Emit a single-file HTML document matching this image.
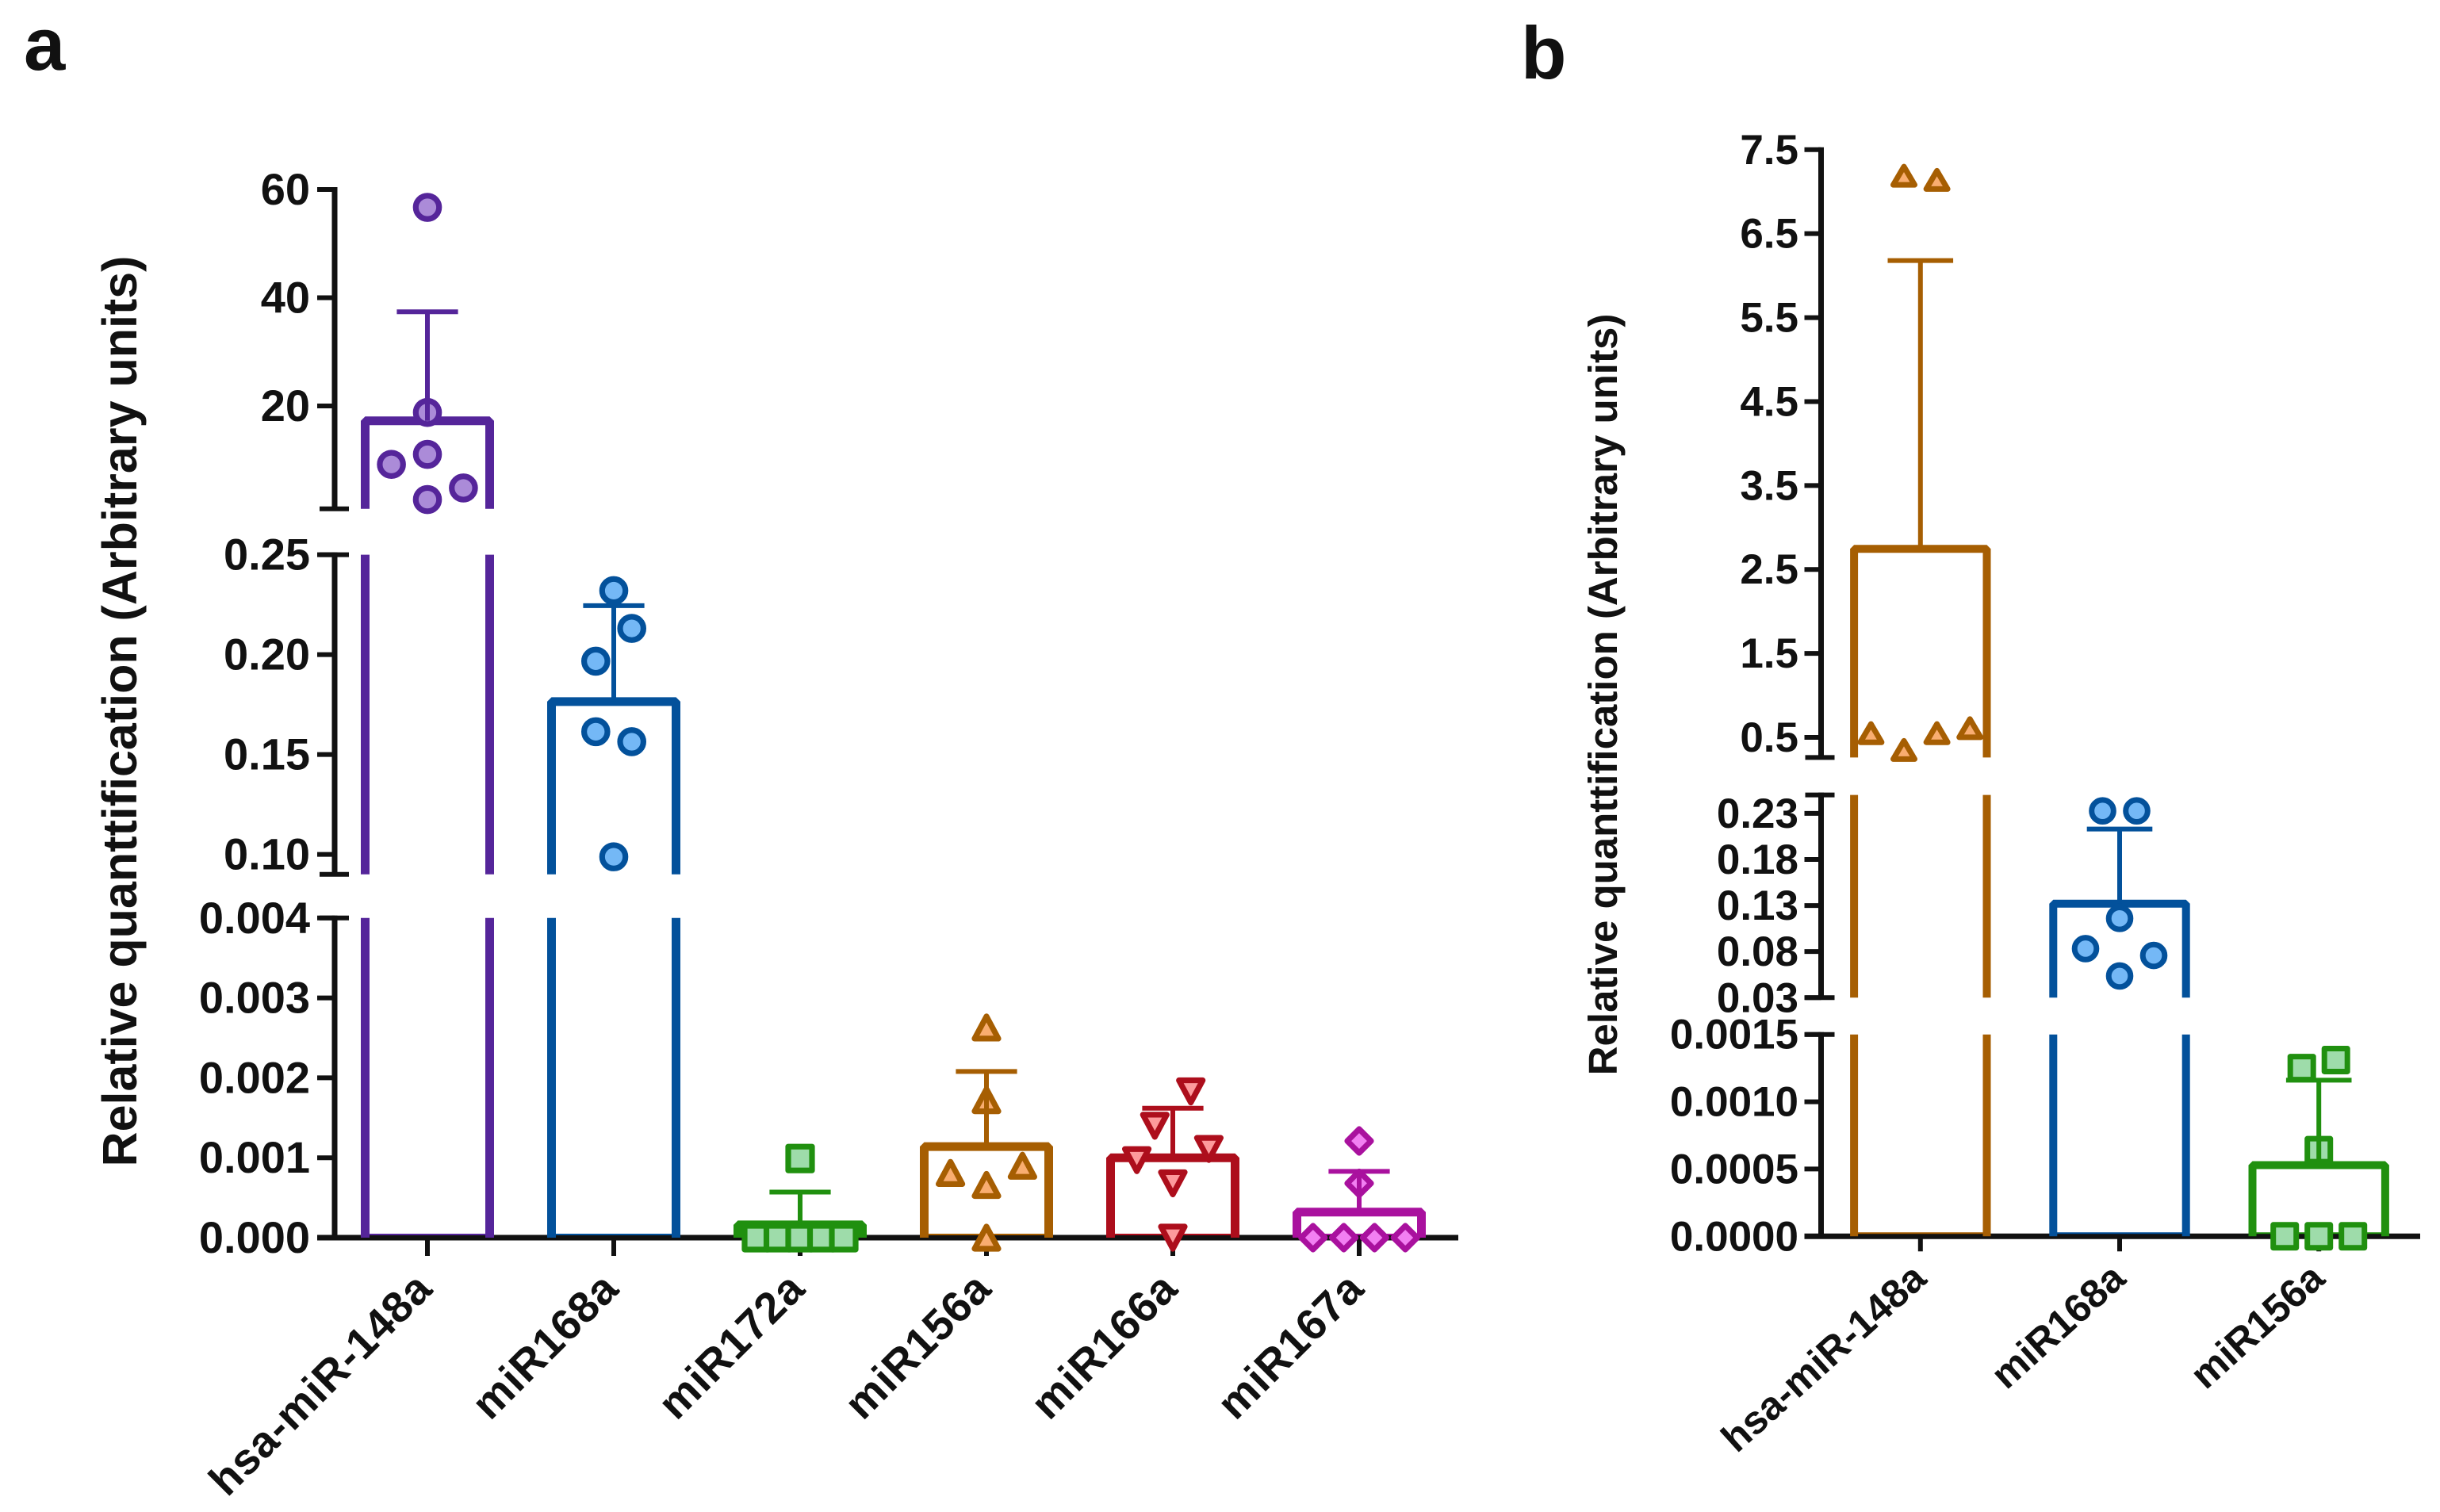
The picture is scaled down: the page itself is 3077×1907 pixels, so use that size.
<!DOCTYPE html>
<html lang="en">
<head>
<meta charset="utf-8">
<title>Relative quantification of miRNAs</title>
<style>
html,body{margin:0;padding:0;background:#fff;}
svg{display:block;}
text{font-family:"Liberation Sans",Arial,sans-serif;font-weight:bold;fill:#111;}
</style>
</head>
<body>
<svg id="figure" xmlns="http://www.w3.org/2000/svg" width="3077" height="1907" viewBox="0 0 3077 1907"></svg>
<script>
/* ---------- Panel a data ---------- */
var aCategories = ["hsa-miR-148a","miR168a","miR172a","miR156a","miR166a","miR167a"];
var aBarValues  = [17.26, 0.1765, 0.00016, 0.00114, 0.0010, 0.00032];
var aErrorTops  = [37.4, 0.2245, 0.00057, 0.00208, 0.00162, 0.00083];
var aPoints148  = [56.7, 18.8, 11.06, 9.2, 4.85, 2.7];
var aSlots148   = [0, 0, 0, -2, 2, 0];
var aPoints168  = [0.232, 0.2131, 0.1967, 0.1614, 0.1564, 0.0988];
var aSlots168   = [0, 1, -1, -1, 1, 0];
var aPoints172  = [0.00099, 0, 0, 0, 0, 0];
var aSlots172   = [0, -2, -1, 0, 1, 2];
var aPoints156  = [0.00263, 0.00172, 0.00081, 0.00066, 0.0009, 0];
var aSlots156   = [0, 0, -2, 0, 2, 0];
var aPoints166  = [0.00183, 0.0014, 0.00097, 0.00111, 0.00068, 0];
var aSlots166   = [1, -1, -2, 2, 0, 0];
var aPoints167  = [0.00121, 0.00068, 0, 0, 0, 0];
var aSlots167   = [0, 0, -3, -1, 1, 3];
var aSegHigh    = [1, 60];
var aSegMid     = [0.09, 0.25];
var aSegLow     = [0, 0.004];
var aTicksHigh  = ["20","40","60"];
var aTicksMid   = ["0.10","0.15","0.20","0.25"];
var aTicksLow   = ["0.000","0.001","0.002","0.003","0.004"];

/* ---------- Panel b data ---------- */
var bCategories = ["hsa-miR-148a","miR168a","miR156a"];
var bBarValues  = [2.745, 0.132, 0.000529];
var bErrorTops  = [6.18, 0.213, 0.00116];
var bPoints148  = [7.19, 7.14, 0.55, 0.35, 0.55, 0.61];
var bSlots148   = [-1, 1, -3, -1, 1, 3];
var bPoints168  = [0.2327, 0.2327, 0.116, 0.0832, 0.0758, 0.0535];
var bSlots168   = [-1, 1, 0, -2, 2, 0];
var bPoints156  = [0.00125, 0.00131, 0.00064, 0, 0, 0];
var bSlots156   = [-1, 1, 0, -2, 0, 2];
var bSegHigh    = [0.26, 7.5];
var bSegMid     = [0.03, 0.25];
var bSegLow     = [0, 0.0015];
var bTicksHigh  = ["0.5","1.5","2.5","3.5","4.5","5.5","6.5","7.5"];
var bTicksMid   = ["0.03","0.08","0.13","0.18","0.23"];
var bTicksLow   = ["0.0000","0.0005","0.0010","0.0015"];

var NS = "http://www.w3.org/2000/svg";
var root = document.getElementById("figure");

var PURPLE = {stroke:"#55259a", fill:"#ab8bd8", name:"purple"};
var BLUE   = {stroke:"#03519b", fill:"#74b8f6", name:"blue"};
var GREEN  = {stroke:"#20900f", fill:"#9edcaa", name:"green"};
var ORANGE = {stroke:"#a65e02", fill:"#f9ad70", name:"orange"};
var RED    = {stroke:"#ad0e1c", fill:"#fd9a9c", name:"red"};
var MAGENTA= {stroke:"#a9119e", fill:"#f280f2", name:"magenta"};

function mk(tag, attrs, parent) {
  var el = document.createElementNS(NS, tag);
  for (var k in attrs) { el.setAttribute(k, attrs[k]); }
  (parent || root).appendChild(el);
  return el;
}

/* Build a broken-axis scale from three segments */
function makeScale(segments) {
  return function (v) {
    for (var i = 0; i < segments.length; i++) {
      var s = segments[i];
      if (v >= s.domain[0] && v <= s.domain[1]) {
        return s.y0 + (v - s.domain[0]) / (s.domain[1] - s.domain[0]) * (s.y1 - s.y0);
      }
    }
    var last = segments[segments.length - 1];
    return last.y1;
  };
}

function symbolPath(shape, m) {
  var h = m.half;
  if (shape === "triUp")   { return "M0," + (-m.triH/2) + "L" + h + "," + (m.triH/2) + "L" + (-h) + "," + (m.triH/2) + "Z"; }
  if (shape === "triDown") { return "M0," + (m.triH/2) + "L" + h + "," + (-m.triH/2) + "L" + (-h) + "," + (-m.triH/2) + "Z"; }
  if (shape === "square")  { return "M" + (-m.sq) + "," + (-m.sq) + "H" + m.sq + "V" + m.sq + "H" + (-m.sq) + "Z"; }
  return "M0," + (-m.dia) + "L" + m.dia + ",0L0," + m.dia + "L" + (-m.dia) + ",0Z";
}

function drawPanel(p) {
  var g = mk("g", {});
  
  

  var y = makeScale(p.segments);
  function xCenter(i) { return p.x0 + i * p.step; }
  var base = y(0);

  /* panel letter */
  var letter = mk("text", {x: p.letterX, y: p.letterY, "font-size": 94}, g);
  letter.textContent = p.letter;
  
  

  /* y title */
  var title = mk("text", {transform: "translate(" + p.titleX + "," + p.titleY + ") rotate(-90)", "text-anchor": "middle", "font-size": p.titleSize}, g);
  title.textContent = "Relative quanttification (Arbitrary units)";
  
  

  /* y axis segments, ticks and labels */
  p.segments.forEach(function (s, si) {
    var line = mk("line", {x1: p.axisX, x2: p.axisX, y1: s.y0, y2: s.y1 - 3, stroke: "#111", "stroke-width": 7}, g);
    
    
    if (si > 0) {
      var lowCap = mk("line", {x1: p.axisX - p.capLeft, x2: p.axisX + p.capRight, y1: s.y0, y2: s.y0, stroke: "#111", "stroke-width": 6}, g);
      
      
    }
    if (si < p.segments.length - 1) {
      var topCap = mk("line", {x1: p.axisX - p.capLeft, x2: p.axisX + p.capRight, y1: s.y1, y2: s.y1, stroke: "#111", "stroke-width": 6}, g);
      
      
    }
    s.ticks.forEach(function (t) {
      var v = parseFloat(t);
      var ty = s.y0 + (v - s.domain[0]) / (s.domain[1] - s.domain[0]) * (s.y1 - s.y0);
      var tick = mk("line", {x1: p.axisX - p.tickLen, x2: p.axisX, y1: ty, y2: ty, stroke: "#111", "stroke-width": 6}, g);
      
      
      var label = mk("text", {x: p.labelX, y: ty + p.tickSize * 0.34, "text-anchor": "end", "font-size": p.tickSize}, g);
      label.textContent = t;
      
      
    });
  });

  /* x axis */
  var xAxis = mk("line", {x1: p.axisX - p.tickLen, x2: p.xEnd, y1: base, y2: base, stroke: "#111", "stroke-width": 7}, g);
  
  

  p.series.forEach(function (s, i) {
    var cx = xCenter(i);

    var xt = mk("line", {x1: cx, x2: cx, y1: base, y2: base + p.xTickLen, stroke: "#111", "stroke-width": 6}, g);
    
    

    var xl = mk("text", {transform: "translate(" + (cx + p.xLabelDx) + "," + (base + p.xLabelDy) + ") rotate(" + p.xLabelAngle + ")", "text-anchor": "end", "font-size": p.xLabelSize, "letter-spacing": p.xLabelSpacing}, g);
    xl.textContent = p.categories[i];
    
    

    var group = mk("g", {}, g);
    
    

    /* bar: pieces in each axis segment, up to the bar value */
    var barV = p.barValues[i];
    var barY = y(barV);
    var left = cx - p.barHalf, right = cx + p.barHalf;
    p.segments.forEach(function (seg) {
      if (barV < seg.domain[0]) { return; }
      var isTop = barV <= seg.domain[1];
      var top = isTop ? barY : seg.y1;
      var d;
      if (isTop) {
        d = "M" + left + "," + seg.y0 + "V" + top + "H" + right + "V" + seg.y0;
      } else {
        d = "M" + left + "," + seg.y0 + "V" + top + "M" + right + "," + seg.y0 + "V" + top;
      }
      var piece = mk("path", {d: d, fill: "none", stroke: s.color.stroke, "stroke-width": p.barStroke, "stroke-linejoin": "bevel"}, group);
      
      
    });
    var barBase = mk("line", {x1: left, x2: right, y1: base - 4, y2: base - 4, stroke: s.color.stroke, "stroke-width": 2}, group);
    
    

    /* points */
    s.values.forEach(function (v, k) {
      var px = cx + s.slots[k] * s.dodge;
      var py = y(v);
      var mark;
      if (s.shape === "circle") {
        mark = mk("circle", {cx: px, cy: py, r: p.marker.r, fill: s.color.fill, stroke: s.color.stroke, "stroke-width": p.marker.sw}, group);
      } else {
        mark = mk("path", {d: symbolPath(s.shape, p.marker), transform: "translate(" + px + "," + py + ")", fill: s.color.fill, stroke: s.color.stroke, "stroke-width": p.marker.sw, "stroke-linejoin": "round"}, group);
      }
      
      
    });

    /* error bar */
    var errY = y(p.errorTops[i]);
    var err = mk("path", {d: "M" + cx + "," + barY + "V" + errY + "M" + (cx - p.capHalf) + "," + errY + "H" + (cx + p.capHalf), fill: "none", stroke: s.color.stroke, "stroke-width": p.errStroke}, group);
    
    
  });
}

drawPanel({
  id: "panel-a", letter: "a", letterX: 30, letterY: 88,
  titleX: 172, titleY: 897, titleSize: 61,
  axisX: 422, capLeft: 19, capRight: 18, tickLen: 22, tickSize: 56, labelX: 391,
  xEnd: 1839, xTickLen: 23, xLabelDx: 9, xLabelDy: 67, xLabelSize: 55, xLabelSpacing: 1, xLabelAngle: -45,
  x0: 539, step: 235, barHalf: 78.5, barStroke: 11, errStroke: 6, capHalf: 38.6,
  marker: {r: 14.7, sw: 7.2, half: 15, triH: 28, sq: 15, dia: 15},
  categories: aCategories, barValues: aBarValues, errorTops: aErrorTops,
  segments: [
    {domain: aSegLow,  y0: 1561, y1: 1157.8, ticks: aTicksLow},
    {domain: aSegMid,  y0: 1102.8, y1: 699.6, ticks: aTicksMid},
    {domain: aSegHigh, y0: 641.7, y1: 239, ticks: aTicksHigh}
  ],
  series: [
    {color: PURPLE,  shape: "circle",  dodge: 22.7, values: aPoints148, slots: aSlots148},
    {color: BLUE,    shape: "circle",  dodge: 22.7, values: aPoints168, slots: aSlots168},
    {color: GREEN,   shape: "square",  dodge: 27.5, values: aPoints172, slots: aSlots172},
    {color: ORANGE,  shape: "triUp",   dodge: 22.7, values: aPoints156, slots: aSlots156},
    {color: RED,     shape: "triDown", dodge: 22.7, values: aPoints166, slots: aSlots166},
    {color: MAGENTA, shape: "diamond", dodge: 19.4, values: aPoints167, slots: aSlots167}
  ]
});

drawPanel({
  id: "panel-b", letter: "b", letterX: 1918, letterY: 99,
  titleX: 2039, titleY: 876, titleSize: 51,
  axisX: 2296.5, capLeft: 20, capRight: 17, tickLen: 21, tickSize: 53, labelX: 2268,
  xEnd: 3052, xTickLen: 19, xLabelDx: 10, xLabelDy: 57, xLabelSize: 50, xLabelSpacing: 0, xLabelAngle: -42,
  x0: 2421.8, step: 251.2, barHalf: 83.7, barStroke: 10, errStroke: 6, capHalf: 41.3,
  marker: {r: 13.8, sw: 7, half: 13.5, triH: 23, sq: 14.5, dia: 13},
  categories: bCategories, barValues: bBarValues, errorTops: bErrorTops,
  segments: [
    {domain: bSegLow,  y0: 1559.3, y1: 1304.7, ticks: bTicksLow},
    {domain: bSegMid,  y0: 1258.3, y1: 1002.6, ticks: bTicksMid},
    {domain: bSegHigh, y0: 955.4, y1: 188.8, ticks: bTicksHigh}
  ],
  series: [
    {color: ORANGE, shape: "triUp",  dodge: 20.8, values: bPoints148, slots: bSlots148},
    {color: BLUE,   shape: "circle", dodge: 21.5, values: bPoints168, slots: bSlots168},
    {color: GREEN,  shape: "square", dodge: 21.5, values: bPoints156, slots: bSlots156}
  ]
});
</script>
</body>
</html>
